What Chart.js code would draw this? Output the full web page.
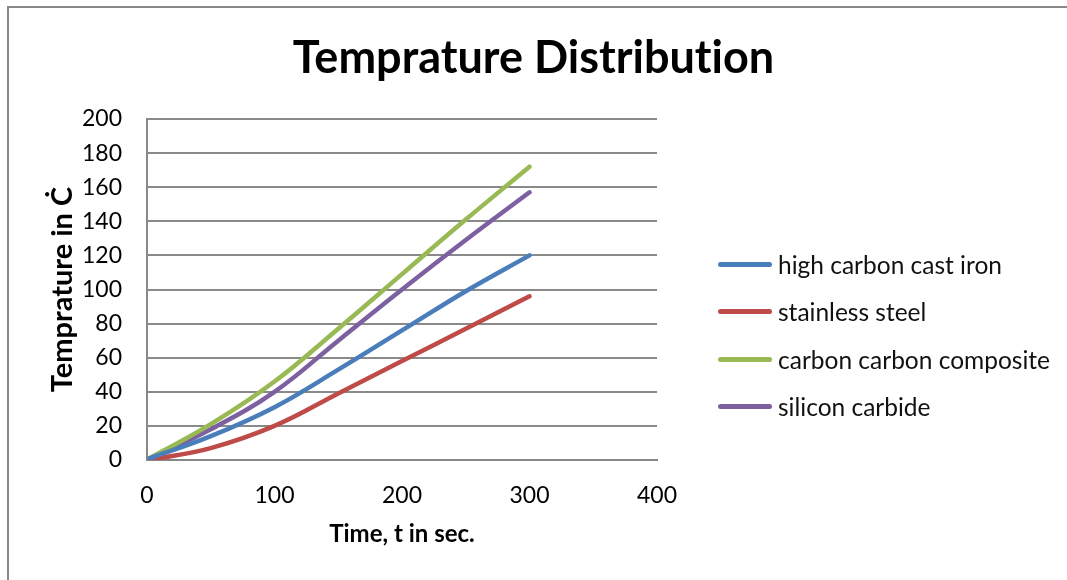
<!DOCTYPE html>
<html>
<head>
<meta charset="utf-8">
<script src="https://cdn.jsdelivr.net/npm/chart.js@4/dist/chart.umd.min.js"></script>
<style>
    body { margin: 0; background: white; overflow: hidden; }
    #wrap { position: relative; width: 1067px; height: 580px; }
    #frame {
        position: absolute; left: 7px; top: 6px; width: 1100px; height: 620px;
        border-left: 2px solid #888; border-top: 2px solid #888;
    }
    #tempChart { position: absolute; left: 0; top: 0; }
    #legend {
        position: absolute; left: 718px; top: 241px;
        font-family: Lato, sans-serif; font-size: 24.5px; color: #111;
    }
    #legend .item { display: flex; align-items: center; height: 47.3px; }
    #legend .swatch { width: 54px; height: 5px; border-radius: 3px; margin-right: 6px; }
</style>
</head>
<body>
<div id="wrap">
    <div id="frame"></div>
    <canvas id="tempChart" width="1067" height="580"></canvas>
    <div id="legend"></div>
</div>
<script>
// time in seconds
const time_sec = [2, 50, 100, 150, 200, 250, 300];

// temperature readings per material
const cast_iron = [1, 14, 31, 53, 76, 99, 120];
const stainless = [0, 7, 20, 39, 58, 77, 96];
const cc_composite = [1, 21, 46, 77, 109, 141, 172];
const sic = [1, 18, 40, 70, 100, 129, 157];

const series_names = ['high carbon cast iron', 'stainless steel', 'carbon carbon composite', 'silicon carbide'];
const series_values = [cast_iron, stainless, cc_composite, sic];
const series_colors = ['#4a7ebb', '#be4b48', '#98b954', '#7d60a0'];

const x_ticks = [0, 100, 200, 300, 400];
const y_ticks = [0, 20, 40, 60, 80, 100, 120, 140, 160, 180, 200];

const FONT = 'Lato, sans-serif';

let datasets = [];
for (let i = 0; i < series_names.length; i++) {
    datasets.push({
        label: series_names[i],
        data: time_sec.map((t, j) => ({x: t, y: series_values[i][j]})),
        showLine: true,
        borderColor: series_colors[i],
        backgroundColor: series_colors[i],
        borderWidth: 4.5,
        borderCapStyle: 'round',
        pointRadius: 0,
        tension: 0.4,
        fill: false
    });
}

// no ligatures on canvas text ("ti" in Distribution)
const plainText = {
    id: 'plainText',
    beforeDraw(chart) {
        chart.ctx.textRendering = 'optimizeSpeed';
    }
};

const ctx = document.getElementById('tempChart').getContext('2d');
const tempChart = new Chart(ctx, {
    type: 'scatter',
    data: { datasets: datasets },
    plugins: [plainText],
    options: {
        responsive: false,
        animation: false,
        plugins: {
            legend: { display: false },
            tooltip: { enabled: false },
            title: {
                display: true,
                text: 'Temprature Distribution',
                color: '#000',
                font: { family: FONT, size: 45, weight: 'bold' },
                padding: { top: 31, bottom: 34 }
            }
        },
        scales: {
            x: {
                type: 'linear',
                min: 0,
                max: 400,
                afterFit: (scale) => { scale.height = 120; },
                afterBuildTicks: (scale) => { scale.ticks = x_ticks.map(v => ({value: v})); },
                ticks: {
                    color: '#000',
                    padding: 22,
                    font: { family: FONT, size: 23 }
                },
                grid: { display: false, drawTicks: false },
                border: { display: true, color: '#888', width: 2 },
                title: {
                    display: true,
                    text: 'Time, t in sec.',
                    color: '#000',
                    font: { family: FONT, size: 24, weight: 'bold' },
                    padding: { top: 0, bottom: 31 }
                }
            },
            y: {
                type: 'linear',
                min: 0,
                max: 200,
                afterFit: (scale) => { scale.width = 147; },
                afterBuildTicks: (scale) => { scale.ticks = y_ticks.map(v => ({value: v})); },
                ticks: {
                    color: '#000',
                    padding: 25,
                    font: { family: FONT, size: 23 }
                },
                grid: { color: '#8a8a8a', lineWidth: 2, drawTicks: false },
                border: { display: true, color: '#888', width: 2 },
                title: {
                    display: true,
                    text: 'Temprature in Ċ',
                    color: '#000',
                    font: { family: FONT, size: 29, weight: 'bold' },
                    padding: { top: 45, bottom: 0 }
                }
            },
            // empty strip on the right that holds the legend
            side: {
                type: 'linear',
                position: 'right',
                min: 0,
                max: 1,
                afterFit: (scale) => { scale.width = 410; },
                ticks: { display: false },
                grid: { display: false, drawTicks: false },
                border: { display: false }
            }
        }
    }
});

// legend on the right
const legend = document.getElementById('legend');
for (let i = 0; i < series_names.length; i++) {
    const item = document.createElement('div');
    item.className = 'item';
    item.innerHTML = `<span class="swatch" style="background:${series_colors[i]}"></span>${series_names[i]}`;
    legend.appendChild(item);
}
</script>
</body>
</html>
